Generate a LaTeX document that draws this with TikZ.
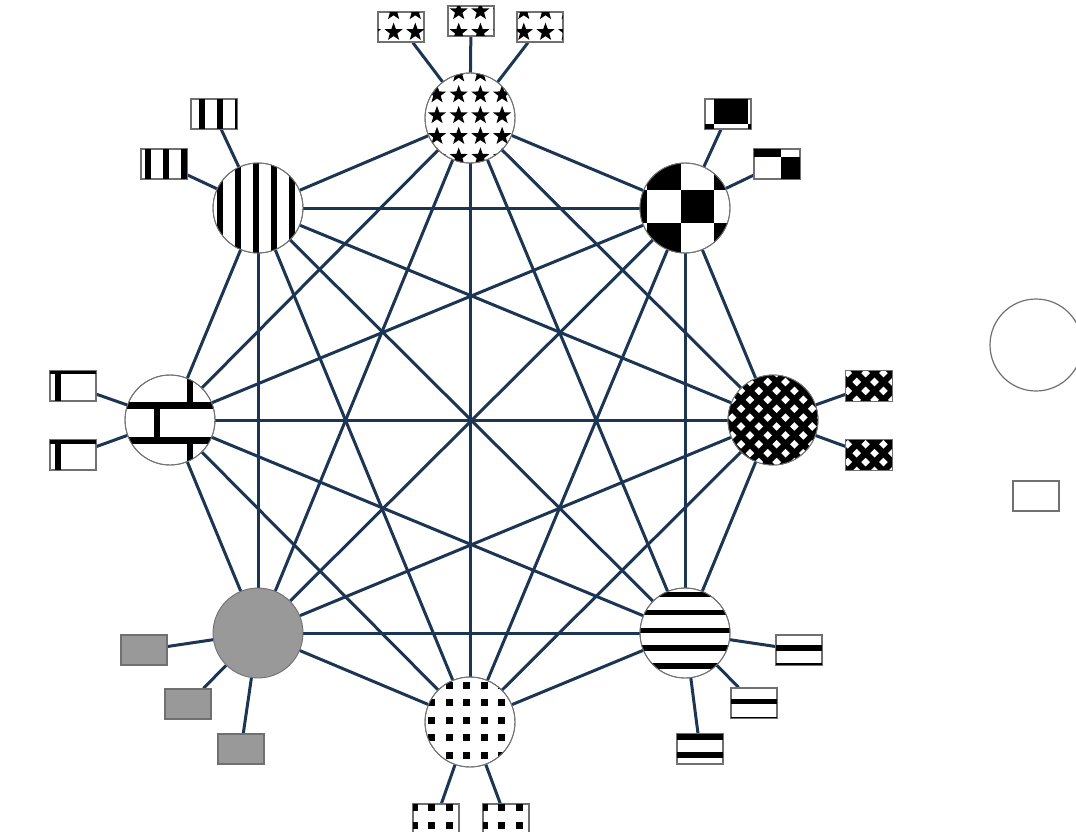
\documentclass[tikz,border=0pt]{standalone}
\usetikzlibrary{backgrounds}
\definecolor{edgeblue}{HTML}{1B3553}
\definecolor{patgray}{HTML}{999999}
\definecolor{rimgray}{HTML}{707070}
\newcommand\fivestar[2]{\fill[black,shift={(#1,#2)}] (90:9.5pt) -- (126:3.9pt) -- (162:9.5pt) -- (198:3.9pt) -- (234:9.5pt) -- (270:3.9pt) -- (306:9.5pt) -- (342:3.9pt) -- (18:9.5pt) -- (54:3.9pt) -- cycle;}
\begin{document}
\begin{tikzpicture}[x=1pt,y=-1pt,
  hub/.style={circle,draw=rimgray,line width=0.9pt,minimum size=90pt,inner sep=0pt,fill=white},
  port/.style={rectangle,draw=rimgray,line width=1.4pt,minimum width=46pt,minimum height=30pt,inner sep=0pt,fill=white},
  link/.style={draw=edgeblue,line width=3pt},
  rim/.style={draw=rimgray,line width=0.9pt},
  portrim/.style={draw=rimgray,line width=1.4pt}]
\useasboundingbox (0,0) rectangle (1076,832);

% hubs
\node[hub] (c1) at (470,118) {};
\node[hub] (c2) at (685,208) {};
\node[hub] (c3) at (773,420) {};
\node[hub] (c4) at (685,633) {};
\node[hub] (c5) at (470,722) {};
\node[hub,fill=patgray] (c6) at (258,633) {};
\node[hub] (c7) at (170,420) {};
\node[hub] (c8) at (258,208) {};

% ports
\node[port] (p11) at (401,27) {};
\node[port] (p12) at (471,21) {};
\node[port] (p13) at (540,27) {};
\node[port] (p21) at (728,114) {};
\node[port] (p22) at (777,164) {};
\node[port] (p31) at (869,386) {};
\node[port] (p32) at (869,455) {};
\node[port] (p41) at (799,650) {};
\node[port] (p42) at (754,703) {};
\node[port] (p43) at (700,749) {};
\node[port] (p51) at (436,819) {};
\node[port] (p52) at (506,819) {};
\node[port,fill=patgray] (p61) at (144,650) {};
\node[port,fill=patgray] (p62) at (188,704) {};
\node[port,fill=patgray] (p63) at (241,749) {};
\node[port] (p71) at (73,386) {};
\node[port] (p72) at (73,455) {};
\node[port] (p81) at (214,114) {};
\node[port] (p82) at (164,164) {};

% legend
\node[hub,fill=none,minimum size=92pt,line width=1.2pt] (lc) at (1036,345) {};
\node[port,line width=1.2pt] (lr) at (1036,496) {};

% connectors
\begin{scope}[on background layer]
\foreach \a [evaluate=\a as \n using int(\a+1)] in {1,...,7}
  \foreach \b in {\n,...,8}
    \draw[link] (c\a) -- (c\b);
\foreach \h/\p in {1/p11,1/p12,1/p13,2/p21,2/p22,3/p31,3/p32,4/p41,4/p42,4/p43,5/p51,5/p52,6/p61,6/p62,6/p63,7/p71,7/p72,8/p81,8/p82}
  \draw[link] (c\h) -- (\p);
\end{scope}

% stars
\begin{scope}
\clip (c1.center) circle[radius=45pt] (p11.south west) rectangle (p11.north east) (p12.south west) rectangle (p12.north east) (p13.south west) rectangle (p13.north east);
\foreach \i in {-3,...,6} \foreach \j in {0,...,7} {\fivestar{437+21.7*\i}{11.4+20.8*\j}}
\end{scope}

% checkerboard
\begin{scope}
\clip (c2.center) circle[radius=45pt] (p21.south west) rectangle (p21.north east) (p22.south west) rectangle (p22.north east);
\foreach \i in {-1,...,5} \foreach \j in {-3,...,3} {
  \pgfmathtruncatemacro\pty{mod(\i+\j+20,2)}
  \ifnum\pty=0 \fill[black] (647+33.5*\i,157+33*\j) rectangle (680.5+33.5*\i,190+33*\j);\fi
}
\end{scope}

% crosshatch
\begin{scope}
\clip (c3.center) circle[radius=45pt] (p31.south west) rectangle (p31.north east) (p32.south west) rectangle (p32.north east);
\fill[black] (700,360) rectangle (910,485);
\foreach \i in {-4,...,8} \foreach \j in {-3,...,12} {
  \pgfmathsetmacro\hx{767.7+17.8*\i+8.9*mod(\j+20,2)}
  \pgfmathsetmacro\hy{382+8.9*\j}
  \fill[white] (\hx,\hy-4.3) -- (\hx+4.3,\hy) -- (\hx,\hy+4.3) -- (\hx-4.3,\hy) -- cycle;
}
\end{scope}

% horizontal stripes
\begin{scope}
\clip (c4.center) circle[radius=45pt] (p41.south west) rectangle (p41.north east) (p42.south west) rectangle (p42.north east) (p43.south west) rectangle (p43.north east);
\foreach \k in {-4,...,7} \fill[black] (620,648+17.8*\k-2.7) rectangle (830,648+17.8*\k+2.7);
\end{scope}

% square dots
\begin{scope}
\clip (c5.center) circle[radius=45pt] (p51.south west) rectangle (p51.north east) (p52.south west) rectangle (p52.north east);
\foreach \i in {-2,...,5} \foreach \j in {-1,...,8} \fill[black] (449+17.5*\i-3.5,685+17.5*\j-3.5) rectangle (449+17.5*\i+3.5,685+17.5*\j+3.5);
\end{scope}

% bricks
\begin{scope}
\clip (c7.center) circle[radius=45pt] (p71.south west) rectangle (p71.north east) (p72.south west) rectangle (p72.north east);
\foreach \k in {-2,...,2} \fill[black] (30,405.5+35*\k-3.5) rectangle (230,405.5+35*\k+3.5);
\foreach \k in {-2,0} \foreach \m in {-2,...,1} \fill[black] (157+66*\m-3,405.5+35*\k) rectangle (157+66*\m+3,440.5+35*\k);
\foreach \k in {-1,1} \foreach \m in {-3,...,0} \fill[black] (190+66*\m-3,405.5+35*\k) rectangle (190+66*\m+3,440.5+35*\k);
\end{scope}

% vertical stripes
\begin{scope}
\clip (c8.center) circle[radius=45pt] (p81.south west) rectangle (p81.north east) (p82.south west) rectangle (p82.north east);
\foreach \k in {-5,...,5} \fill[black] (220+18*\k-3.2,80) rectangle (220+18*\k+3.2,270);
\end{scope}

% outlines on top
\foreach \c in {1,2,3,4,5,7,8} \draw[rim] (c\c.center) circle[radius=45pt];
\foreach \p in {p11,p12,p13,p21,p22,p31,p32,p41,p42,p43,p51,p52,p71,p72,p81,p82}
  \draw[portrim] (\p.south west) rectangle (\p.north east);
\end{tikzpicture}
\end{document}
